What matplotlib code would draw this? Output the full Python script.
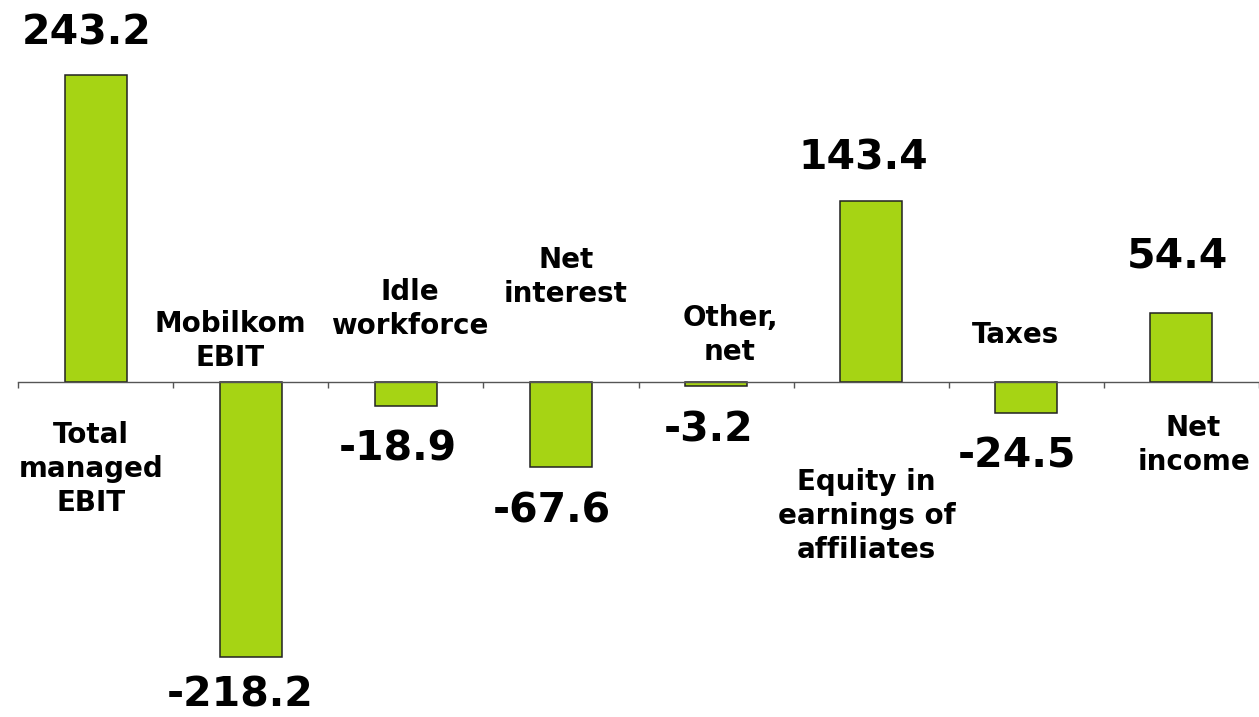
"""Net income walk: from total managed EBIT to net income (EUR m)."""
import matplotlib
matplotlib.use("Agg")
import matplotlib.pyplot as plt
import numpy as np

# --- data -------------------------------------------------------------------
categories = [
    "Total\nmanaged\nEBIT",
    "Mobilkom\nEBIT",
    "Idle\nworkforce",
    "Net\ninterest",
    "Other,\nnet",
    "Equity in\nearnings of\naffiliates",
    "Taxes",
    "Net\nincome",
]
values = [243.2, -218.2, -18.9, -67.6, -3.2, 143.4, -24.5, 54.4]

# --- layout (hand placed labels, as in the original slide) ------------------
# value labels: (x offset from bar centre, baseline y in data units)
value_pos = [(-0.055, 267.8), (-0.07, -257.5), (-0.05, -62.6), (-0.058, -111.7),
             (-0.045, -47.5), (-0.052, 168.0), (-0.058, -67.4), (-0.026, 91.1)]
# category labels: (x offset, baseline of last line in data units)
cat_pos = [(-0.03, -102.2), (-0.134, 12.7), (0.027, 38.0), (0.033, 63.4),
           (0.09, 17.4), (-0.03, -139.5), (-0.07, 30.9), (0.078, -69.7)]

GREEN = "#A6D414"

fig = plt.figure(figsize=(12.59, 7.17), dpi=100)
ax = fig.add_axes([18 / 1259, 0, 1241 / 1259, 1])

x = np.arange(len(values))
ax.bar(x, values, width=0.4, color=GREEN, edgecolor="#222222", linewidth=1.1, zorder=2)

for i, v in enumerate(values):
    dx, y = value_pos[i]
    ax.text(i + dx, y, f"{v:.1f}", ha="center", va="baseline",
            fontsize=29.5, fontweight="bold", color="black")
    dx, y = cat_pos[i]
    ax.text(i + dx, y, categories[i], ha="center", va="baseline",
            fontsize=20, fontweight="bold", color="black", linespacing=1.28)

ax.set_xlim(-0.5, len(values) - 0.5)
ax.set_ylim(-265.5, 302.7)

for side in ("left", "right", "top"):
    ax.spines[side].set_visible(False)
ax.spines["bottom"].set_position(("data", 0))
ax.spines["bottom"].set_color("#555555")
ax.spines["bottom"].set_linewidth(1.0)
ax.spines["bottom"].set_zorder(3)
ax.set_xticks(np.arange(-0.5, len(values), 1.0))
ax.set_xticklabels([])
ax.tick_params(axis="x", direction="out", length=4, width=1.0, color="#555555")
ax.set_yticks([])

fig.savefig("out.png", dpi=100)
